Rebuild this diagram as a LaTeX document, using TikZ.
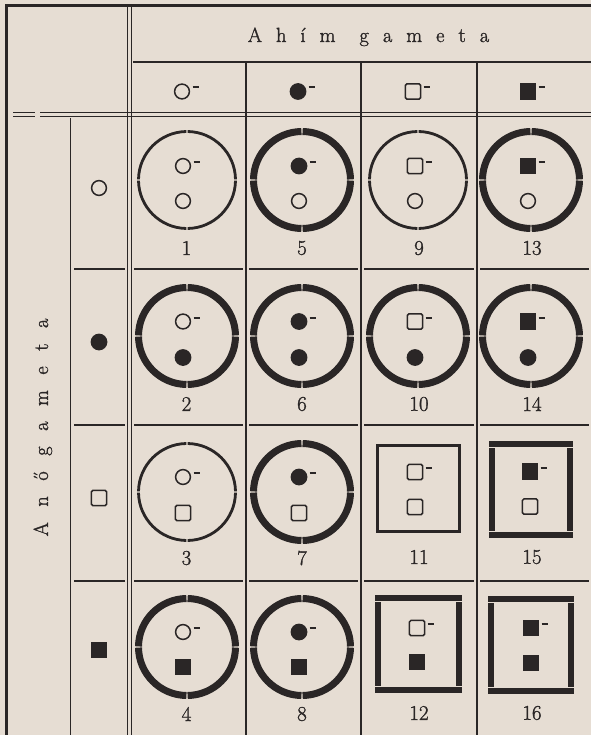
\documentclass[tikz,border=0pt]{standalone}
\usepackage{fontspec}
\newfontfamily\inkfont{Latin Modern Roman}[FakeBold=1.3]
\definecolor{paper}{RGB}{230,221,211}
\definecolor{ink}{RGB}{42,38,38}
\tikzset{
  thinrule/.style={draw=ink, line width=1.3pt},
  heavyrule/.style={draw=ink, line width=3pt},
  thinring/.style={draw=ink, line width=2.8pt},
  thickring/.style={draw=ink, line width=7pt},
  thinbox/.style={draw=ink, line width=3pt},
  opensym/.style={draw=ink, line width=1.5pt},
  dashbar/.style={draw=ink, line width=2pt},
  num/.style={font=\inkfont\fontsize{21}{25}\selectfont, text=ink, inner sep=0pt},
  headtext/.style={font=\inkfont\fontsize{20.5}{24}\selectfont, text=ink, inner sep=0pt},
}
\newcommand\wcirc[2]{\draw[opensym] (#1,#2) circle[radius=7.4];}
\newcommand\bcirc[2]{\fill[ink] (#1,#2) circle[radius=8.4];}
\newcommand\wsq[2]{\draw[opensym, rounded corners=1.5pt] (#1-7.6,#2-7.6) rectangle (#1+7.6,#2+7.6);}
\newcommand\bsq[2]{\fill[ink] (#1-8.4,#2-8.4) rectangle (#1+8.4,#2+8.4);}
\newcommand\minusmark[2]{\draw[dashbar] (#1+10.5,#2-4) -- (#1+17,#2-4);}
\newcommand\gapring[4]{\foreach \a in {0,90,180,270}{\draw[#4] (#1,#2) ++(\a+0.7:#3) arc[start angle=\a+0.7, end angle=\a+89.3, radius=#3];}}
\newcommand\gapbox[4]{%
  \fill[ink] (#1,#2) rectangle (#3,#2+6);
  \fill[ink] (#1,#4-6) rectangle (#3,#4);
  \fill[ink] (#1,#2+7.2) rectangle (#1+6,#4-7.2);
  \fill[ink] (#3-6,#2+7.2) rectangle (#3,#4-7.2);}
\begin{document}
\begin{tikzpicture}[x=1pt,y=-1pt]
\fill[paper] (0,0) rectangle (591,735);
\useasboundingbox (0,0) rectangle (591,735);
% frame and rules
\draw[heavyrule] (5,5.5) -- (591,5.5);
\draw[heavyrule] (6.5,7) -- (6.5,735);
\draw[thinrule] (127.5,7) -- (127.5,735);
\draw[thinrule] (131.5,7) -- (131.5,735);
\draw[thinrule] (133,62) -- (591,62);
\draw[thinrule] (13,112.5) -- (35,112.5) (40,112.5) -- (591,112.5);
\draw[thinrule] (13,116.5) -- (35,116.5) (40,116.5) -- (591,116.5);
\draw[thinrule] (70.5,118) -- (70.5,735);
\foreach \x in {246,361,477} \draw[thinrule] (\x,62) -- (\x,735);
\foreach \y in {269,425,581} {
  \draw[thinrule] (74,\y) -- (125,\y);
  \draw[thinrule] (134,\y) -- (243,\y) (249,\y) -- (358,\y) (364,\y) -- (474,\y) (480,\y) -- (589,\y);
}
% titles
\node[headtext, anchor=base] (male) at (368.5,42) {A\kern14pt h\kern14pt í\kern14pt m\kern24pt g\kern14pt a\kern14pt m\kern14pt e\kern14pt t\kern14pt a};
\node[headtext, rotate=90, anchor=base] (female) at (48,427.5) {A\kern15.5pt n\kern15.5pt ő\kern15.5pt g\kern15.5pt a\kern15.5pt m\kern15.5pt e\kern15.5pt t\kern15.5pt a};
% header symbols (male gametes)
\wcirc{182}{91.5}\minusmark{182}{91.5}
\bcirc{298}{91.5}\minusmark{298}{91.5}
\wsq{413}{91.5}\minusmark{413}{91.5}
\bsq{528}{91.5}\minusmark{528}{91.5}
% left symbols (female gametes)
\wcirc{99}{188}
\bcirc{99}{342}
\wsq{99}{498}
\bsq{99}{650}
% row 1
\gapring{187}{180}{48.5}{thinring}  \wcirc{183}{166}\minusmark{183}{166} \wcirc{183}{201}
\gapring{302}{180}{48.5}{thickring} \bcirc{299}{166}\minusmark{299}{166} \wcirc{299}{201}
\gapring{418}{180}{48.5}{thinring}  \wsq{415}{166}\minusmark{415}{166}   \wcirc{415}{201}
\gapring{531}{180}{48.5}{thickring} \bsq{528}{166}\minusmark{528}{166}   \wcirc{528}{201}
% row 2
\gapring{187}{336}{48.5}{thickring} \wcirc{183}{321.5}\minusmark{183}{321.5} \bcirc{183}{357.5}
\gapring{302}{336}{48.5}{thickring} \bcirc{299}{321.5}\minusmark{299}{321.5} \bcirc{299}{357.5}
\gapring{418}{336}{48.5}{thickring} \wsq{415}{321.5}\minusmark{415}{321.5}   \bcirc{415}{357.5}
\gapring{531}{336}{48.5}{thickring} \bsq{528}{321.5}\minusmark{528}{321.5}   \bcirc{528}{357.5}
% row 3
\gapring{187}{492}{48.5}{thinring}  \wcirc{183}{477}\minusmark{183}{477} \wsq{183}{513}
\gapring{302}{492}{48.5}{thickring} \bcirc{299}{477}\minusmark{299}{477} \wsq{299}{513}
\draw[thinbox] (377.5,445.5) rectangle (459.5,531.5);
\wsq{415}{472}\minusmark{415}{472} \wsq{415}{507}
\gapbox{489}{441}{573}{538}
\bsq{530}{471.5}\minusmark{530}{471.5} \wsq{530}{506.5}
% row 4
\gapring{187}{647}{48.5}{thickring} \wcirc{183}{632}\minusmark{183}{632} \bsq{183}{667}
\gapring{302}{647}{48.5}{thickring} \bcirc{299}{632}\minusmark{299}{632} \bsq{299}{667}
\gapbox{375}{595}{462}{693}
\wsq{417}{628}\minusmark{417}{628} \bsq{417}{662}
\gapbox{488}{596}{574}{694}
\bsq{531}{628}\minusmark{531}{628} \bsq{531}{663}
% numbers
\node[num] (n1) at (186.5,248) {1};
\node[num] (n5) at (302,248) {5};
\node[num] (n9) at (419,248) {9};
\node[num] (n13) at (532,248) {13};
\node[num] (n2) at (186.5,404) {2};
\node[num] (n6) at (302,404) {6};
\node[num] (n10) at (419,404) {10};
\node[num] (n14) at (532,404) {14};
\node[num] (n3) at (186.5,558) {3};
\node[num] (n7) at (302,558) {7};
\node[num] (n11) at (419,557) {11};
\node[num] (n15) at (532,557) {15};
\node[num] (n4) at (186.5,714) {4};
\node[num] (n8) at (302,714) {8};
\node[num] (n12) at (419,713) {12};
\node[num] (n16) at (532,713) {16};
\end{tikzpicture}
\end{document}
